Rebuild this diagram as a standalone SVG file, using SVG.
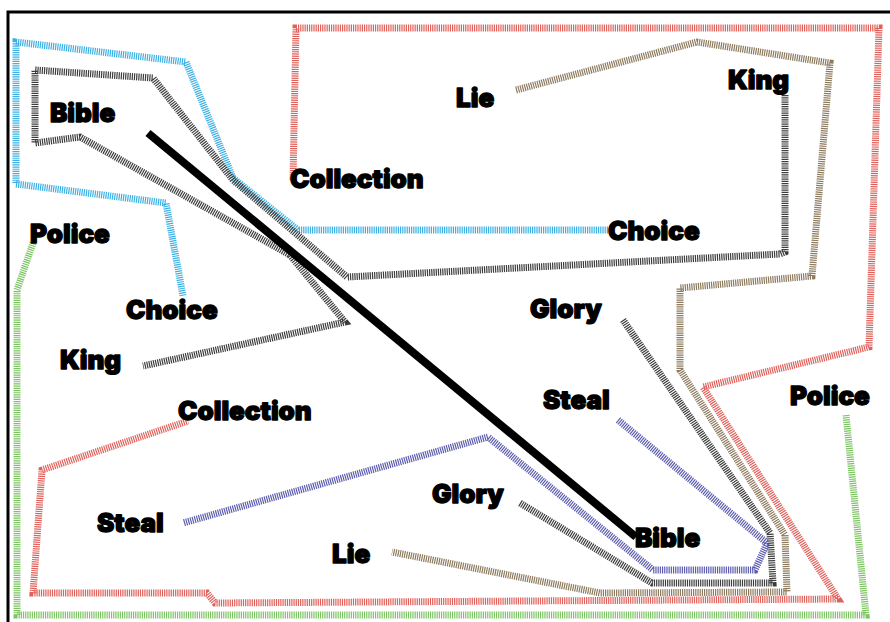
<svg xmlns="http://www.w3.org/2000/svg" width="890" height="622" viewBox="0 0 890 622">
<style>
.lbl{font-family:Inter,"Liberation Sans",sans-serif;font-weight:900;font-size:26px;fill:#000;stroke:#000;stroke-width:1.3;stroke-linejoin:round}
.c{fill:none;stroke-width:7;stroke-dasharray:1.2 1;stroke-linejoin:miter}
.red{stroke:#e0605a}
.blue{stroke:#3cb0e4}
.gray{stroke:#3c3c3c}
.tan{stroke:#8c7a5e}
.pur{stroke:#5c5cae}
.grn{stroke:#7cc462}
</style>
<rect x="0" y="0" width="890" height="622" fill="#fff"/>
<rect x="8" y="12" width="900" height="640" fill="none" stroke="#000" stroke-width="3"/>
<g id="connectors">
<path class="c red" d="M293,180 L296,28 L879,28 L869,347 L703,387 L838,599 L215,603 L207,593 L33,593 L42,470 L188,421"/>
<path class="c blue" d="M608,230 L298,230 L233,178 L186,62 L16,42 L16,184 L166,203 L183,296"/>
<path class="c gray" d="M785,95 L785,252 L780,254 L347,277 L233,180 L153,78 L35,70 L35,143 L80,137 L290,255 L345,322 L143,366"/>
<path class="c grn" d="M33,243 L17,290 L17,615 L866,615 L846,415"/>
<path class="c tan" d="M516,90 L697,42 L830,63 L812,276 L680,288 L680,370 L785,535 L787,592 L600,593 L392,552"/>
<path class="c gray" d="M623,320 L770,533 L773,583 L652,583 L520,503"/>
<path class="c pur" d="M618,420 L767,543 L755,570 L653,570 L488,437 L183,523"/>
<path fill="none" stroke="#000" stroke-width="8" d="M148,133 L636,537"/>
</g>
<g id="n-bible-1"><text class="lbl" x="50" y="122">Bible</text></g>
<g id="n-lie-1"><text class="lbl" x="456" y="107">Lie</text></g>
<g id="n-king-1"><text class="lbl" x="728" y="89">King</text></g>
<g id="n-collection-1"><text class="lbl" x="290" y="188">Collection</text></g>
<g id="n-choice-1"><text class="lbl" x="608" y="240">Choice</text></g>
<g id="n-police-1"><text class="lbl" x="30" y="243">Police</text></g>
<g id="n-choice-2"><text class="lbl" x="126" y="319">Choice</text></g>
<g id="n-king-2"><text class="lbl" x="60" y="369">King</text></g>
<g id="n-collection-2"><text class="lbl" x="178" y="420">Collection</text></g>
<g id="n-glory-1"><text class="lbl" x="530" y="318">Glory</text></g>
<g id="n-steal-1"><text class="lbl" x="543" y="409">Steal</text></g>
<g id="n-police-2"><text class="lbl" x="790" y="405">Police</text></g>
<g id="n-steal-2"><text class="lbl" x="97" y="532">Steal</text></g>
<g id="n-glory-2"><text class="lbl" x="432" y="503">Glory</text></g>
<g id="n-lie-2"><text class="lbl" x="332" y="563">Lie</text></g>
<g id="n-bible-2"><text class="lbl" x="635" y="547">Bible</text></g>
</svg>
